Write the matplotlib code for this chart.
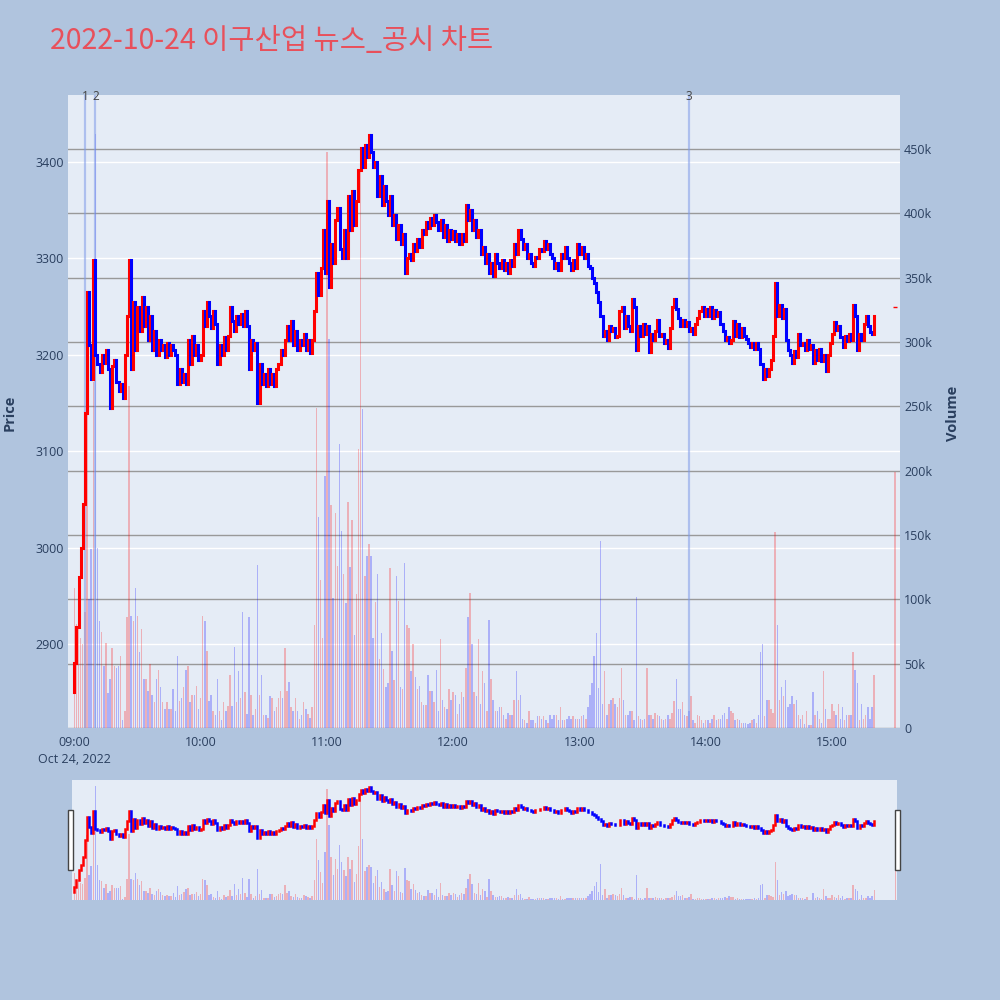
import numpy as np
import matplotlib
matplotlib.use('Agg')
import matplotlib.pyplot as plt
from matplotlib.patches import Rectangle
from matplotlib.transforms import blended_transform_factory

plt.rcParams['font.family'] = ['Open Sans', 'DejaVu Sans']

title = '2022-10-24 이구산업 뉴스_공시 차트'
date_label = 'Oct 24, 2022'

# 1-minute candles from 09:00 (minute 0) to 15:20, open of first candle
first_open = 2850
close_price = [
    2880, 2918, 2970, 3000, 3045, 3140, 3265, 3210, 3175, 3298,  # 09:00
    3200, 3190, 3182, 3200, 3192, 3205, 3185, 3145, 3188, 3195,
    3172, 3162, 3170, 3155, 3200, 3240, 3298, 3185, 3255, 3205,
    3250, 3225, 3260, 3230, 3250, 3215, 3240, 3205, 3225, 3200,  # 09:30
    3215, 3205, 3210, 3198, 3212, 3200, 3210, 3205, 3200, 3170,
    3185, 3172, 3180, 3170, 3215, 3190, 3220, 3200, 3210, 3195,
    3200, 3245, 3230, 3255, 3240, 3228, 3245, 3232, 3190, 3210,  # 10:00
    3200, 3218, 3205, 3220, 3250, 3235, 3225, 3240, 3232, 3242,
    3230, 3245, 3230, 3185, 3215, 3205, 3212, 3150, 3190, 3170,
    3180, 3168, 3185, 3170, 3180, 3168, 3185, 3190, 3205, 3200,  # 10:30
    3215, 3230, 3215, 3235, 3210, 3225, 3205, 3215, 3210, 3222,
    3205, 3215, 3202, 3215, 3245, 3285, 3262, 3290, 3330, 3285,
    3360, 3270, 3315, 3295, 3340, 3352, 3310, 3300, 3330, 3300,  # 11:00
    3365, 3330, 3370, 3335, 3360, 3392, 3415, 3395, 3418, 3405,
    3428, 3410, 3395, 3400, 3365, 3385, 3355, 3375, 3360, 3345,
    3365, 3335, 3345, 3320, 3335, 3315, 3325, 3285, 3300, 3305,  # 11:30
    3298, 3315, 3308, 3320, 3312, 3330, 3325, 3338, 3332, 3342,
    3335, 3345, 3338, 3330, 3340, 3322, 3335, 3318, 3330, 3320,
    3328, 3318, 3325, 3315, 3325, 3318, 3355, 3340, 3350, 3330,  # 12:00
    3340, 3322, 3330, 3305, 3312, 3295, 3305, 3285, 3295, 3282,
    3305, 3295, 3290, 3298, 3288, 3295, 3285, 3298, 3292, 3315,
    3305, 3330, 3320, 3310, 3315, 3300, 3305, 3295, 3292, 3302,  # 12:30
    3300, 3310, 3308, 3318, 3310, 3315, 3305, 3300, 3290, 3295,
    3288, 3305, 3300, 3312, 3300, 3295, 3288, 3298, 3290, 3315,
    3305, 3312, 3300, 3305, 3292, 3290, 3280, 3275, 3265, 3255,  # 13:00
    3240, 3220, 3225, 3215, 3230, 3225, 3228, 3218, 3220, 3245,
    3250, 3228, 3240, 3230, 3225, 3258, 3250, 3205, 3230, 3220,
    3232, 3222, 3230, 3203, 3222, 3215, 3225, 3236, 3220, 3222,  # 13:30
    3212, 3215, 3207, 3228, 3250, 3258, 3248, 3238, 3230, 3236,
    3230, 3234, 3225, 3228, 3222, 3232, 3238, 3245, 3250, 3240,
    3248, 3240, 3250, 3238, 3246, 3240, 3244, 3232, 3225, 3215,  # 14:00
    3218, 3212, 3215, 3235, 3220, 3232, 3218, 3228, 3220, 3216,
    3212, 3208, 3212, 3206, 3212, 3206, 3190, 3175, 3185, 3178,
    3185, 3195, 3220, 3275, 3240, 3252, 3238, 3248, 3215, 3205,  # 14:30
    3200, 3192, 3204, 3198, 3222, 3210, 3212, 3205, 3215, 3206,
    3210, 3192, 3205, 3195, 3206, 3194, 3200, 3183, 3200, 3212,
    3222, 3234, 3226, 3230, 3218, 3208, 3220, 3214, 3222, 3215,  # 15:00
    3252, 3240, 3205, 3222, 3215, 3232, 3240, 3230, 3224, 3222,
    3240,
]

# traded volume per minute, thousands of shares
volume_k = [
    109, 81, 81, 70, 65, 90, 265, 100, 139, 269,  # 09:00
    462, 140, 83, 75, 48, 66, 27, 38, 62, 48,
    47, 48, 56, 6, 13, 86, 266, 87, 83, 109,
    87, 59, 77, 38, 38, 29, 50, 26, 20, 38,  # 09:30
    45, 32, 20, 15, 20, 15, 15, 30, 13, 56,
    21, 23, 32, 45, 48, 20, 26, 26, 33, 15,
    23, 87, 83, 60, 21, 26, 13, 10, 38, 13,  # 10:00
    6, 20, 13, 17, 41, 17, 63, 20, 44, 23,
    90, 28, 11, 86, 26, 10, 15, 127, 26, 41,
    10, 10, 8, 25, 23, 13, 16, 23, 29, 23,  # 10:30
    62, 29, 36, 16, 13, 23, 13, 7, 10, 20,
    15, 11, 8, 16, 80, 249, 164, 115, 70, 196,
    448, 302, 173, 101, 167, 126, 221, 153, 120, 97,  # 11:00
    176, 125, 162, 72, 104, 217, 447, 248, 118, 134,
    143, 134, 70, 98, 120, 54, 74, 46, 32, 35,
    124, 60, 37, 118, 99, 32, 30, 128, 80, 78,  # 11:30
    44, 65, 40, 30, 33, 20, 18, 18, 41, 29,
    29, 20, 45, 13, 69, 22, 16, 15, 30, 22,
    28, 26, 11, 19, 28, 24, 47, 86, 105, 65,  # 12:00
    28, 25, 69, 19, 44, 35, 13, 84, 38, 22,
    13, 13, 16, 16, 10, 7, 12, 10, 10, 22,
    44, 22, 26, 7, 6, 4, 13, 6, 6, 4,  # 12:30
    9, 9, 7, 9, 6, 4, 10, 7, 10, 10,
    6, 16, 6, 6, 7, 9, 7, 9, 7, 7,
    7, 9, 10, 7, 16, 26, 35, 56, 74, 31,  # 13:00
    145, 19, 44, 10, 19, 22, 23, 19, 16, 23,
    47, 22, 10, 10, 13, 13, 6, 102, 9, 7,
    6, 7, 47, 10, 10, 7, 12, 10, 9, 7,  # 13:30
    6, 7, 10, 7, 12, 21, 38, 15, 15, 20,
    10, 9, 13, 25, 6, 4, 10, 9, 6, 4,
    6, 6, 4, 7, 10, 6, 7, 7, 10, 12,  # 14:00
    7, 16, 13, 12, 6, 7, 6, 4, 4, 4,
    3, 4, 6, 7, 4, 10, 59, 65, 9, 22,
    22, 15, 12, 152, 80, 22, 32, 25, 37, 16,  # 14:30
    19, 25, 19, 22, 10, 7, 10, 3, 13, 2,
    2, 28, 10, 13, 7, 4, 44, 15, 7, 7,
    19, 13, 10, 19, 7, 16, 6, 10, 10, 10,  # 15:00
    59, 45, 35, 6, 19, 7, 10, 16, 7, 16,
    41,
]

# closing auction at 15:30
auction_minute = 390
auction_price = 3250
auction_volume_k = 199

news_times = ['09:05', '09:10', '13:52']
news_labels = ['1', '2', '3']

hour_labels = ['09:00', '10:00', '11:00', '12:00', '13:00', '14:00', '15:00']
price_ticks = [2900, 3000, 3100, 3200, 3300, 3400]
volume_ticks_k = [0, 50, 100, 150, 200, 250, 300, 350, 400, 450]

# ---- derived series
minutes = np.arange(len(close_price))
close = np.array(close_price, dtype=float)
opens = np.concatenate([[first_open], close[:-1]])
up = close >= opens
candle_colors = np.where(up, '#ff0000', '#0000ff')
vol = np.array(volume_k) * 1000.0

def to_minute(t):
    h, m = t.split(':')
    return (int(h) - 9) * 60 + int(m)

news_minutes = [to_minute(t) for t in news_times]
hour_minutes = [to_minute(t) for t in hour_labels]

bg = '#b0c4de'
plot_bg = '#e5ecf6'
txt = '#2a3f5f'

fig = plt.figure(figsize=(10, 10), dpi=100, facecolor=bg)

# ---- main chart: volume axis underneath, price axis on top
ax_v = fig.add_axes([0.068, 0.272, 0.832, 0.633])
ax_p = ax_v.twinx()
ax_v.set_facecolor(plot_bg)
for a in (ax_v, ax_p):
    for s in a.spines.values():
        s.set_visible(False)

ax_v.set_xlim(-3.0, 392.3)
ax_v.set_ylim(0, 492000)
ax_p.set_ylim(2813, 3469.5)

# gridlines (both behind the data)
ax_v.set_axisbelow(True)
ax_v.set_yticks([v * 1000 for v in volume_ticks_k])
ax_v.grid(axis='y', color='#999999', linewidth=1.0)
trans_p = blended_transform_factory(ax_v.transAxes, ax_p.transData)
for p in price_ticks:
    ax_v.plot([0, 1], [p, p], transform=trans_p, color='white', linewidth=1.0, zorder=0.8)

# volume bars
ax_v.bar(minutes, vol, width=0.7, color=np.where(up, 'red', 'blue'), alpha=0.25,
         linewidth=0, zorder=2)
ax_v.bar([auction_minute], [auction_volume_k * 1000], width=0.7, color='red', alpha=0.25,
         linewidth=0, zorder=2)

# news markers
trans_x = blended_transform_factory(ax_v.transData, ax_v.transAxes)
for m, lab in zip(news_minutes, news_labels):
    ax_v.axvline(m, color='#7f9be8', alpha=0.55, linewidth=1.6, zorder=3)
    ax_v.text(m, 0.9975, lab, transform=trans_x, ha='center', va='center', fontsize=8.5,
              color='#444444', clip_on=False)

# candles
lo = np.minimum(opens, close)
hi = np.maximum(opens, close)
ax_p.vlines(minutes, lo, hi, colors=candle_colors, linewidth=2.2, capstyle='projecting',
            zorder=4)
ax_p.plot([auction_minute], [auction_price], marker='_', markersize=3, color='red', zorder=4)

# axes ticks and labels
ax_v.set_xticks(hour_minutes)
ax_v.set_xticklabels([hour_labels[0] + '\n' + date_label] + hour_labels[1:],
                     fontsize=9, color=txt, linespacing=1.35)
ax_v.yaxis.tick_right()
ax_v.set_yticklabels([f'{v}k' if v else '0' for v in volume_ticks_k], fontsize=9, color=txt)
ax_v.tick_params(axis='both', length=0)
ax_v.tick_params(axis='x', pad=6)
ax_v.tick_params(axis='y', pad=3)

ax_p.yaxis.tick_left()
ax_p.set_yticks(price_ticks)
ax_p.set_yticklabels([str(p) for p in price_ticks], fontsize=9, color=txt)
ax_p.tick_params(axis='y', length=0, pad=3)

fig.text(0.010, 0.587, 'Price', rotation=90, ha='center', va='center', fontsize=10.5,
         fontweight='bold', color=txt)
fig.text(0.953, 0.587, 'Volume', rotation=90, ha='center', va='center', fontsize=10.5,
         fontweight='bold', color=txt)

fig.text(0.050, 0.959, title, fontsize=20.5, color='#e8505b', ha='left', va='center',
         family=['Noto Sans CJK KR', 'DejaVu Sans'])

# ---- range slider
s_v = fig.add_axes([0.072, 0.100, 0.825, 0.120])
s_p = s_v.twinx()
s_v.set_facecolor(plot_bg)
for a in (s_v, s_p):
    for s in a.spines.values():
        s.set_visible(False)
    a.set_xticks([])
    a.set_yticks([])
s_v.set_xlim(-1.1, 390.8)
s_v.set_ylim(0, 486000)
s_p.set_ylim(2807, 3468)
s_v.bar(minutes, vol, width=0.7, color=np.where(up, 'red', 'blue'), alpha=0.25, linewidth=0)
s_v.bar([auction_minute], [auction_volume_k * 1000], width=0.7, color='red', alpha=0.25,
        linewidth=0)
s_p.vlines(minutes, lo, hi, colors=candle_colors, linewidth=1.8, capstyle='projecting')

for x0 in (0.068, 0.895):
    fig.add_artist(Rectangle((x0, 0.130), 0.005, 0.060, transform=fig.transFigure,
                             facecolor='white', edgecolor='#444444', linewidth=1.0))

fig.savefig('out.png', dpi=100, facecolor=bg)
